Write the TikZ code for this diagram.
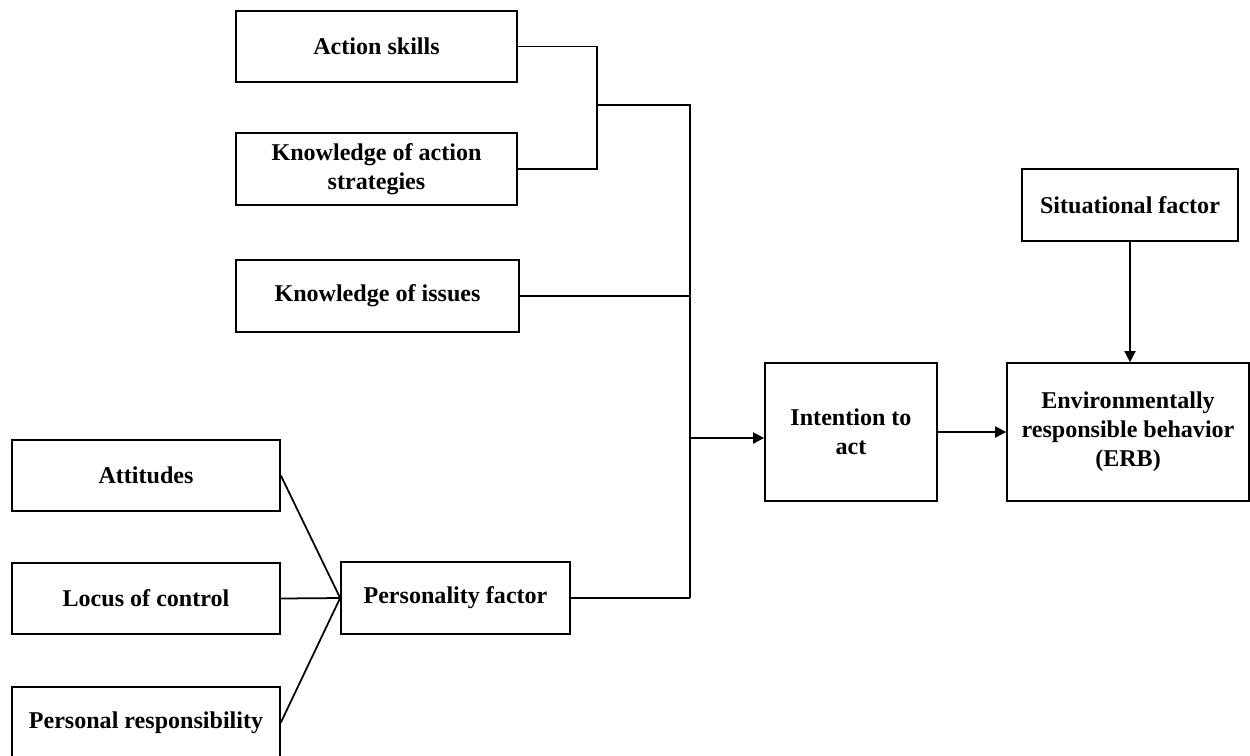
\documentclass[tikz,border=0pt]{standalone}
\usepackage{fontspec}
\setmainfont{Liberation Serif}
\usetikzlibrary{arrows.meta}
\tikzset{
  factor/.style={rectangle, draw=black, line width=1pt,
    inner sep=2pt, align=center,
    font=\fontsize{13.7}{16.5}\selectfont\bfseries},
  link/.style={draw=black, line width=1pt},
  arrow/.style={-{Triangle[length=0.22cm, width=0.22cm]}, line width=1pt},
}
\begin{document}
\begin{tikzpicture}[x=0.02cm, y=-0.02cm]
  \useasboundingbox (0,0) rectangle (1250,755);

  % knowledge and skills
  \node[factor, minimum width=5.62cm, minimum height=1.42cm] (skills) at (376.5,46.5) {Action skills};
  \node[factor, minimum width=5.62cm, minimum height=1.44cm] (strategies) at (376.5,169) {Knowledge of action\\strategies};
  \node[factor, minimum width=5.66cm, minimum height=1.44cm] (issues) at (377.5,296) {Knowledge of issues};

  % personality variables
  \node[factor, minimum width=5.36cm, minimum height=1.42cm] (attitudes) at (146,475.5) {Attitudes};
  \node[factor, minimum width=5.36cm, minimum height=1.42cm] (locus) at (146,598.5) {Locus of control};
  \node[factor, minimum width=5.36cm, minimum height=1.42cm] (responsibility) at (146,722.5) {Personal responsibility};
  \node[factor, minimum width=4.58cm, minimum height=1.44cm] (personality) at (455.5,598) {Personality factor};

  % outcome side
  \node[factor, minimum width=4.32cm, minimum height=1.44cm] (situational) at (1130,205) {Situational factor};
  \node[factor, minimum width=3.44cm, minimum height=2.76cm] (intention) at (851,432) {Intention to\\act};
  \node[factor, minimum width=4.84cm, minimum height=2.76cm] (erb) at (1128,432) {Environmentally\\responsible behavior\\(ERB)};

  \coordinate (bracket) at (597,105);
  \coordinate (trunk) at (690,105);
  \coordinate (trunkend) at (690,598);
  \coordinate (feed) at (690,438);

  \draw[link] (skills.east) -| (bracket) |- (strategies.east);
  \draw[link] (bracket) -- (trunk) -- (trunkend);
  \draw[link] (issues.east) -- (issues.east -| trunk);
  \draw[link] (personality.east) -- (trunkend);

  \foreach \src in {attitudes, locus, responsibility}
    \draw[link] (\src.east) -- (personality.west);

  \draw[arrow] (feed) -- (feed -| intention.west);
  \draw[arrow] (intention.east) -- (erb.west);
  \draw[arrow] (situational.south) -- (situational.south |- erb.north);
\end{tikzpicture}
\end{document}
